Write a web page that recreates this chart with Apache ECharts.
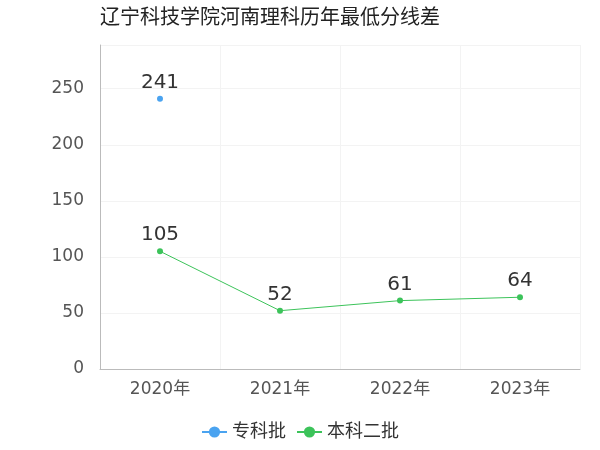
<!DOCTYPE html>
<html><head><meta charset="utf-8">
<script src="https://cdn.jsdelivr.net/npm/echarts@6/dist/echarts.min.js"></script>
</head><body style="margin:0">
<div id="c" style="width:600px;height:450px"></div>
<script>
const categories = ['2020年','2021年','2022年','2023年'];
const zhuanke = [241, null, null, null];
const benke2 = [105, 52, 61, 64];
const chart = echarts.init(document.getElementById('c'));
const F = '"DejaVu Sans","Noto Sans CJK SC",sans-serif';
const lbl = {show:true, position:'top', fontSize:20, color:'#333', distance:3, fontFamily:F};
chart.setOption({
  textStyle:{fontFamily:F},
  title:{text:'辽宁科技学院河南理科历年最低分线差', left:95, top:4, textStyle:{fontSize:20, fontWeight:'normal', color:'#222', fontFamily:F}},
  legend:{bottom:4, itemGap:10, textStyle:{fontSize:18, color:'#333', fontFamily:F}, data:['专科批','本科二批']},
  grid:{left:100, right:20, top:45, bottom:81},
  xAxis:{type:'category', data:categories, axisLine:{lineStyle:{color:'#bbb'}}, axisTick:{show:false},
    axisLabel:{fontSize:17, color:'#555', margin:12, fontFamily:F}, splitLine:{show:true, lineStyle:{color:'#f3f3f3'}}},
  yAxis:{type:'value', min:0, max:289, interval:50, axisLine:{show:true, lineStyle:{color:'#bbb'}},
    axisLabel:{fontSize:17, color:'#555', margin:16, showMaxLabel:false, fontFamily:F}, splitLine:{lineStyle:{color:'#f3f3f3'}}},
  series:[
    {name:'专科批', type:'line', data:zhuanke, color:'#4aa3f0', symbol:'circle', symbolSize:6, label:lbl, lineStyle:{width:1}},
    {name:'本科二批', type:'line', data:benke2, color:'#3cc35a', symbol:'circle', symbolSize:6, label:lbl, lineStyle:{width:1}}
  ]
});
</script></body></html>
